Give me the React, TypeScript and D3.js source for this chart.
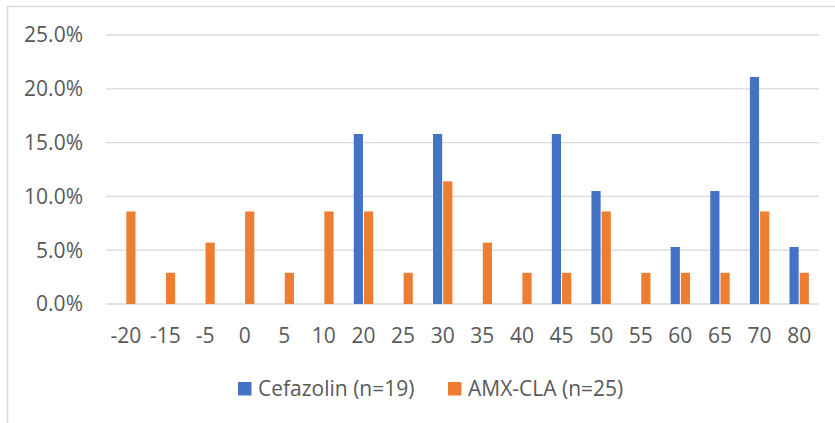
import React from "react";
import * as d3 from "d3";

const categories = ["-20", "-15", "-5", "0", "5", "10", "20", "25", "30", "35", "40", "45", "50", "55", "60", "65", "70", "80"];
const cefazolin = [0, 0, 0, 0, 0, 0, 0.158, 0, 0.158, 0, 0, 0.158, 0.105, 0, 0.053, 0.105, 0.211, 0.053];
const amxCla = [0.086, 0.029, 0.057, 0.086, 0.029, 0.086, 0.086, 0.029, 0.114, 0.057, 0.029, 0.029, 0.086, 0.029, 0.029, 0.029, 0.086, 0.029];
const yTicks = [0, 0.05, 0.1, 0.15, 0.2, 0.25];
const seriesNames = ["Cefazolin (n=19)", "AMX-CLA (n=25)"];
const colors = ["#4472C4", "#ED7D31"];

const W = 835;
const H = 423;
const FONT = "'Open Sans', sans-serif";
const FS = 21;

export default function App() {
  const x = d3.scaleBand<string>().domain(categories).range([106, 819]);
  const y = d3.scaleLinear().domain([0, 0.25]).range([304, 35]);
  const inner = d3.scaleBand<number>().domain([0, 1]).range([0, 19.4]).paddingInner(0.1);
  const fmt = d3.format(".1%");
  const series = [cefazolin, amxCla];
  const bw = x.bandwidth();
  const groupOffset = (bw - 19.4) / 2;

  return (
    <svg width={W} height={H} style={{ position: "absolute", left: 0, top: 0, background: "#fff" }}>
      <rect x={0} y={0} width={W} height={H} fill="#fff" />
      <path d={`M7.5,${H} V6.5 H${W}`} fill="none" stroke="#D9D9D9" strokeWidth={1.5} />
      {yTicks.map((t) => (
        <g key={t}>
          <line x1={106} x2={819} y1={y(t)} y2={y(t)} stroke="#D9D9D9" strokeWidth={1.3} />
          <text x={83} y={y(t)} dy="0.35em" textAnchor="end" fontFamily={FONT} fontSize={FS} fill="#595959">
            {fmt(t)}
          </text>
        </g>
      ))}
      {series.map((vals, si) =>
        vals.map((v, i) =>
          v > 0 ? (
            <rect
              key={`${si}-${i}`}
              x={(x(categories[i]) as number) + groupOffset + (inner(si) as number)}
              y={y(v)}
              width={inner.bandwidth()}
              height={y(0) - y(v)}
              fill={colors[si]}
            />
          ) : null
        )
      )}
      {categories.map((c) => (
        <text key={c} x={(x(c) as number) + bw / 2} y={336} dy="0.35em" textAnchor="middle" fontFamily={FONT} fontSize={FS} fill="#595959">
          {c}
        </text>
      ))}
      {seriesNames.map((n, i) => {
        const lx = [238, 448][i];
        return (
          <g key={n}>
            <rect x={lx} y={382} width={13.5} height={13.5} fill={colors[i]} />
            <text x={lx + 20} y={389} dy="0.35em" fontFamily={FONT} fontSize={FS} fill="#595959">
              {n}
            </text>
          </g>
        );
      })}
    </svg>
  );
}
